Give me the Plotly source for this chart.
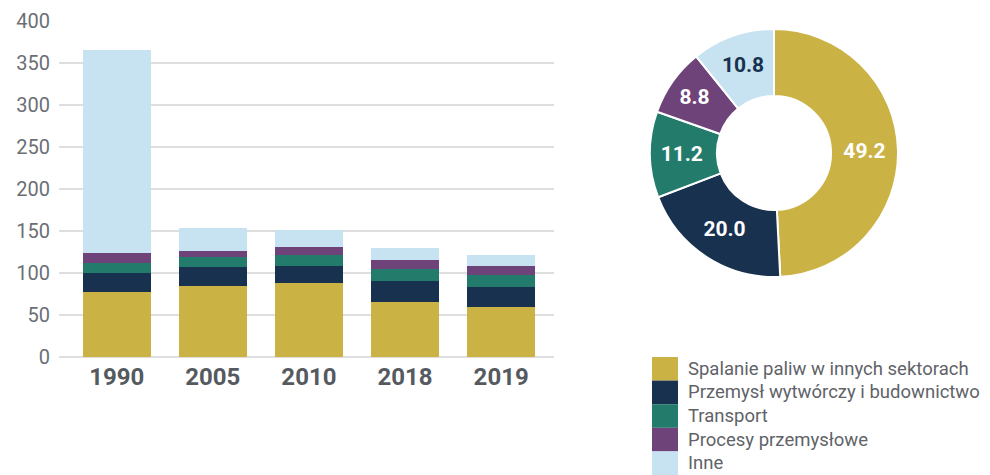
import plotly.graph_objects as go

years = ["1990", "2005", "2010", "2018", "2019"]
sectors = ["Spalanie paliw w innych sektorach", "Przemysł wytwórczy i budownictwo",
           "Transport", "Procesy przemysłowe", "Inne"]
colors = ["#CBB245", "#17314F", "#237C6B", "#6E4379", "#C7E2F0"]

# stacked values per sector, order = years
spalanie = [77.0, 85.0, 87.6, 65.8, 59.4]
przemysl = [23.4, 22.6, 21.1, 25.0, 24.5]
transport = [12.0, 11.9, 13.1, 14.3, 13.7]
procesy = [12.0, 7.1, 9.5, 10.7, 10.7]
inne = [241.6, 27.5, 20.3, 14.3, 13.3]
series = [spalanie, przemysl, transport, procesy, inne]

# share in 2019 (%)
share_2019 = [49.2, 20.0, 11.2, 8.8, 10.8]
share_text_colors = ["white", "white", "white", "white", "#17314F"]

# page body has an 8px margin, so the figure is drawn 8px in from the window edge
W, H, OFF = 982, 467, 8


def px(x):
    return (x - OFF) / W


def py(y):
    return 1 - (y - OFF) / H


fig = go.Figure()

for name, vals, col in zip(sectors, series, colors):
    fig.add_trace(go.Bar(x=years, y=vals, name=name, marker_color=col,
                         marker_line_width=0, width=0.71, showlegend=False,
                         xaxis="x", yaxis="y"))

fig.add_trace(go.Pie(
    labels=sectors, values=share_2019, sort=False, direction="clockwise",
    rotation=0, hole=0.46, showlegend=False,
    marker=dict(colors=colors, line=dict(color="white", width=2)),
    text=[f"{v:.1f}" for v in share_2019], textinfo="text",
    textposition="inside", insidetextorientation="horizontal",
    textfont=dict(family="Roboto", size=21, color=share_text_colors, weight="bold"),
    domain=dict(x=[px(650), px(898)], y=[py(277), py(29)]),
))

# legend drawn as swatches + labels
shapes = []
annotations = []
row_h = 23.6
for i, (name, col) in enumerate(zip(sectors, colors)):
    top = 357 + i * row_h
    shapes.append(dict(type="rect", xref="paper", yref="paper",
                       x0=px(652), x1=px(678),
                       y0=py(top + row_h), y1=py(top),
                       fillcolor=col, line_width=0))
    annotations.append(dict(xref="paper", yref="paper", x=px(686),
                            y=py(top + row_h / 2), text=name,
                            showarrow=False, xanchor="left", yanchor="middle",
                            font=dict(family="Roboto", size=18.5, color="#5f6368")))

fig.update_layout(
    width=W, height=H,
    margin=dict(l=0, r=0, t=0, b=0),
    plot_bgcolor="white", paper_bgcolor="white",
    barmode="stack",
    xaxis=dict(domain=[px(59), px(554)], range=[-0.6, 4.55],
               showgrid=False, showline=False, ticks="", automargin=False,
               tickfont=dict(family="Roboto", size=24, color="#555a60", weight="bold"),
               ticklabelstandoff=3),
    yaxis=dict(domain=[py(357), py(21)], range=[0, 400],
               dtick=50, showgrid=True, gridcolor="#dedede", gridwidth=1.5,
               zeroline=True, zerolinecolor="#dedede", zerolinewidth=1.5,
               showline=False, ticks="", automargin=False,
               tickfont=dict(family="Roboto", size=20, color="#6b6f75"),
               ticklabelstandoff=8),
    shapes=shapes,
    annotations=annotations,
)

fig.write_html("out.html")
